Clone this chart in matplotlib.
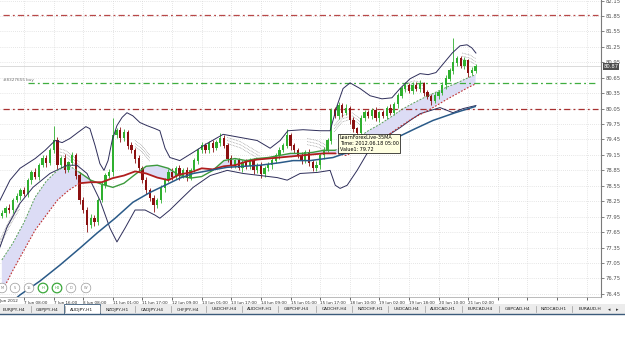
import matplotlib
matplotlib.use("Agg")
import matplotlib.pyplot as plt
import numpy as np
from matplotlib.patches import Rectangle, Circle
from matplotlib.lines import Line2D
from matplotlib.transforms import blended_transform_factory

# ---------------- data ----------------
FIRST_OPEN = 77.97
CLOSE = [78.02, 78.11, 78.08, 78.27, 78.35, 78.46, 78.40, 78.66, 78.81, 78.73,
         78.95, 79.08, 79.00, 79.24, 79.43, 78.95, 79.08, 78.85, 79.00, 79.14,
         78.75, 78.27, 78.08, 77.79, 77.92, 77.84, 78.27, 78.56, 78.75, 78.81,
         79.53, 79.62, 79.47, 79.59, 79.33, 79.24, 79.08, 78.89, 78.66, 78.46,
         78.31, 78.17, 78.27, 78.50, 78.66, 78.81, 78.73, 78.89, 78.75, 78.85,
         78.71, 78.85, 79.04, 79.24, 79.33, 79.24, 79.37, 79.28, 79.39, 79.47,
         79.33, 79.08, 78.95, 79.04, 78.89, 79.00, 78.93, 79.04, 78.85, 78.95,
         78.77, 78.89, 78.95, 79.04, 79.14, 79.24, 79.33, 79.53, 79.33, 79.24,
         79.14, 79.04, 79.20, 79.00, 78.89, 78.95, 79.14, 79.24, 79.43, 80.01,
         79.91, 80.11, 79.97, 80.05, 79.82, 79.66, 79.57, 79.86, 79.97, 79.90,
         80.01, 79.86, 79.97, 79.91, 80.05, 79.97, 80.13, 80.30, 80.44, 80.50,
         80.40, 80.51, 80.44, 80.53, 80.36, 80.28, 80.20, 80.30, 80.36, 80.50,
         80.63, 80.79, 80.94, 81.02, 80.88, 80.98, 80.75, 80.79, 80.87]
UPPER_WICK = [0.06, 0.05, 0.08, 0.04, 0.06, 0.05, 0.07, 0.05, 0.04, 0.08,
              0.05, 0.06, 0.07, 0.05, 0.29, 0.06, 0.05, 0.08, 0.04, 0.06,
              0.05, 0.07, 0.06, 0.05, 0.08, 0.06, 0.05, 0.07, 0.04, 0.06,
              0.33, 0.05, 0.07, 0.06, 0.05, 0.08, 0.05, 0.06, 0.04, 0.07,
              0.05, 0.06, 0.05, 0.07, 0.04, 0.06, 0.08, 0.05, 0.06, 0.05,
              0.07, 0.04, 0.06, 0.05, 0.08, 0.06, 0.05, 0.07, 0.05, 0.10,
              0.06, 0.05, 0.07, 0.04, 0.06, 0.05, 0.08, 0.05, 0.06, 0.04,
              0.07, 0.05, 0.06, 0.05, 0.04, 0.07, 0.06, 0.13, 0.05, 0.06,
              0.04, 0.07, 0.05, 0.06, 0.05, 0.08, 0.04, 0.06, 0.05, 0.05,
              0.07, 0.06, 0.05, 0.08, 0.05, 0.06, 0.04, 0.07, 0.05, 0.06,
              0.05, 0.07, 0.04, 0.06, 0.05, 0.08, 0.05, 0.06, 0.04, 0.07,
              0.05, 0.06, 0.05, 0.07, 0.04, 0.06, 0.05, 0.08, 0.05, 0.06,
              0.07, 0.05, 0.48, 0.06, 0.05, 0.08, 0.04, 0.06, 0.05]
LOWER_WICK = [0.05, 0.07, 0.06, 0.05, 0.04, 0.08, 0.05, 0.06, 0.07, 0.05,
              0.06, 0.04, 0.08, 0.05, 0.06, 0.07, 0.05, 0.06, 0.04, 0.05,
              0.06, 0.08, 0.05, 0.14, 0.06, 0.07, 0.05, 0.04, 0.06, 0.05,
              0.06, 0.05, 0.07, 0.04, 0.06, 0.05, 0.08, 0.05, 0.06, 0.07,
              0.05, 0.13, 0.06, 0.05, 0.07, 0.04, 0.06, 0.05, 0.08, 0.05,
              0.06, 0.05, 0.04, 0.07, 0.05, 0.06, 0.05, 0.08, 0.04, 0.06,
              0.05, 0.07, 0.06, 0.05, 0.04, 0.08, 0.05, 0.06, 0.07, 0.05,
              0.06, 0.04, 0.05, 0.07, 0.05, 0.06, 0.04, 0.05, 0.08, 0.06,
              0.05, 0.07, 0.04, 0.06, 0.05, 0.05, 0.07, 0.06, 0.04, 0.06,
              0.05, 0.06, 0.08, 0.05, 0.06, 0.07, 0.08, 0.05, 0.06, 0.04,
              0.06, 0.05, 0.07, 0.04, 0.06, 0.05, 0.05, 0.06, 0.05, 0.07,
              0.04, 0.06, 0.05, 0.06, 0.07, 0.05, 0.08, 0.05, 0.06, 0.04,
              0.06, 0.05, 0.07, 0.06, 0.05, 0.06, 0.08, 0.05, 0.04]

# Bollinger-type envelope (outer)
BBU_X = [-0.5, 2.2, 4.9, 9.0, 11.7, 14.4, 16.3, 18.4, 20.6, 22.7, 23.8, 25.2, 26.5, 27.6,
         28.7, 29.8, 31.1, 32.5, 33.8, 35.4, 37.3, 39.2, 41.4, 42.7, 44.1, 45.4, 48.1,
         51.7, 55.4, 59.8, 64.4, 69.0, 72.5, 75.2, 77.3, 81.4, 86.0, 88.7, 90.6, 92.2,
         94.1, 96.8, 99.5, 102.7, 105.4, 107.6, 110.3, 113.0, 115.2, 117.3, 119.5,
         121.7, 123.8, 125.7, 127.0, 128.1]
BBU_Y = [78.27, 78.66, 78.89, 79.08, 79.24, 79.43, 79.39, 79.47, 79.59, 79.70, 79.66,
         79.33, 78.98, 78.85, 79.04, 79.43, 79.72, 79.88, 79.97, 79.91, 79.78, 79.72,
         79.66, 79.62, 79.28, 79.10, 79.04, 79.20, 79.37, 79.55, 79.49, 79.43, 79.28,
         79.43, 79.62, 79.64, 79.62, 79.62, 80.11, 80.44, 80.55, 80.44, 80.30, 80.24,
         80.26, 80.44, 80.63, 80.73, 80.71, 80.75, 80.94, 81.13, 81.27, 81.29, 81.23,
         81.13]
BBL_X = [-0.5, 1.4, 4.9, 8.4, 13.0, 17.6, 20.3, 23.0, 26.5, 29.2, 31.1, 33.3, 36.0,
         38.7, 41.4, 42.7, 45.4, 48.1, 51.7, 56.3, 60.9, 65.2, 69.8, 74.4, 77.1, 80.6,
         85.2, 88.7, 90.1, 91.4, 93.3, 96.0, 98.7, 102.2, 107.6, 110.3, 113.0, 118.4,
         121.9, 124.6, 128.1]
BBL_Y = [77.36, 77.75, 78.21, 78.52, 78.79, 78.95, 78.95, 78.79, 78.27, 77.73, 77.46,
         77.73, 78.08, 78.08, 77.98, 77.92, 78.08, 78.27, 78.52, 78.75, 78.85, 78.79,
         78.75, 78.71, 78.66, 78.79, 78.81, 78.85, 78.56, 78.50, 78.56, 78.85, 79.18,
         79.43, 79.68, 79.82, 79.95, 80.07, 79.97, 80.05, 80.11]

# long moving average (dark blue)
BLUE_X = [3.3, 4.9, 10.3, 15.7, 21.1, 25.7, 30.6, 35.4, 40.0, 44.1, 48.1, 51.7, 56.3,
          60.9, 65.7, 69.8, 75.2, 78.7, 83.3, 89.5, 92.7, 96.8, 102.2, 106.8, 111.7,
          116.5, 122.5, 127.9]
BLUE_Y = [76.33, 76.43, 76.70, 77.01, 77.34, 77.63, 77.92, 78.23, 78.42, 78.56, 78.70,
          78.79, 78.85, 78.91, 78.93, 78.95, 79.00, 79.04, 79.04, 79.10, 79.18, 79.30,
          79.39, 79.49, 79.66, 79.82, 79.97, 80.09]

# fast (green) and slow (red) moving averages
MA_X = [0, 3, 6, 9, 12, 15, 18, 21, 24, 27, 30, 33, 36, 39, 42, 45, 48, 51, 54, 57,
        60, 63, 66, 69, 72, 75, 78, 81, 84, 87, 90, 93, 96, 99, 102, 105, 108, 111,
        114, 117, 120, 123, 126, 128]
GREEN_MA = [77.11, 77.44, 77.84, 78.33, 78.64, 78.85, 78.95, 78.81, 78.66, 78.58,
            78.52, 78.60, 78.77, 78.93, 78.95, 78.89, 78.75, 78.70, 78.73, 78.85,
            79.04, 79.08, 79.04, 79.08, 79.10, 79.14, 79.18, 79.18, 79.20, 79.24,
            79.24, 79.33, 79.47, 79.62, 79.74, 79.88, 80.03, 80.15, 80.26, 80.36,
            80.46, 80.55, 80.65, 80.71]
RED_MA = [76.49, 76.91, 77.30, 77.69, 77.98, 78.27, 78.46, 78.60, 78.62, 78.62,
          78.70, 78.75, 78.83, 78.79, 78.71, 78.66, 78.77, 78.81, 78.89, 78.87,
          78.93, 78.95, 79.02, 79.06, 79.08, 79.10, 79.12, 79.14, 79.16, 79.18,
          79.18, 79.14, 79.24, 79.33, 79.43, 79.57, 79.72, 79.86, 79.97, 80.09,
          80.22, 80.34, 80.46, 80.53]

# dotted inner-band fragments
FAN_A_X = [-0.5, 1.4, 3.3, 4.9];        FAN_A_Y = [77.50, 77.79, 78.04, 78.23]
FAN_B_X = [14.9, 17.1, 19.0, 21.1];     FAN_B_Y = [79.28, 79.24, 79.14, 79.00]
FAN_C_X = [36.0, 37.9, 40.0];           FAN_C_Y = [79.43, 79.33, 79.14]
FAN_D_X = [60.9, 64.4, 67.0, 69.8];     FAN_D_Y = [79.49, 79.41, 79.30, 79.18]
FAN_E_X = [82.5, 85.2, 87.9];           FAN_E_Y = [79.47, 79.43, 79.33]
FAN_F_X = [89.8, 91.9, 94.6, 96.8];     FAN_F_Y = [79.72, 79.91, 79.97, 79.86]
FAN_G_X = [108.7, 111.4, 114.1];        FAN_G_Y = [80.53, 80.59, 80.55]
FAN_H_X = [124.4, 126.5, 128.1];        FAN_H_Y = [81.13, 81.09, 81.02]
FAN_OFFSETS = [0.0, -0.06, -0.12]

LEVELS = [81.87, 80.55, 80.05]
LEVEL_COLORS = ["#b84848", "#3fae3f", "#a83030"]
BID = 80.87

Y_TICKS = [76.45, 76.75, 77.05, 77.35, 77.65, 77.95, 78.25, 78.55, 78.85, 79.15,
           79.45, 79.75, 80.05, 80.35, 80.65, 80.95, 81.25, 81.55, 81.85, 82.15]
X_TICK_POS = [6, 14, 22, 30, 38, 46, 54, 62, 70, 78, 86, 94, 102, 110, 118, 126,
              134, 142, 150, 158]
X_TICK_LABELS = ["7 Jun 08:00", "7 Jun 16:00", "8 Jun 08:00", "11 Jun 01:00",
                 "11 Jun 17:00", "12 Jun 09:00", "13 Jun 01:00", "13 Jun 17:00",
                 "14 Jun 09:00", "15 Jun 01:00", "15 Jun 17:00", "18 Jun 10:00",
                 "19 Jun 02:00", "19 Jun 18:00", "20 Jun 10:00", "21 Jun 02:00"]
FIRST_DATE_LABEL = "6 Jun 2012"
TABS = ["EURJPY,H4", "GBPJPY,H4", "AUDJPY,H1", "NZDJPY,H1", "CADJPY,H4", "CHFJPY,H4",
        "USDCHF,H4", "AUDCHF,H1", "GBPCHF,H4", "CADCHF,H4", "NZDCHF,H1", "USDCAD,H4",
        "AUDCAD,H1", "EURCAD,H4", "GBPCAD,H4", "NZDCAD,H1", "EURAUD,H"]
ACTIVE_TAB = "AUDJPY,H1"
PERIOD_BUTTONS = ["M", "5", "15", "H", "H4", "D", "W"]
ACTIVE_BUTTONS = ["H", "H4"]
TOOLTIP = "LearnForexLive-35MA\nTime: 2012.06.18 05:00\nValue1: 79.72"
ORDER_LABEL = "#8327655 buy"

# ---------------- figure ----------------
W, H = 625, 353
fig = plt.figure(figsize=(W / 100, H / 100), dpi=100)
fig.patch.set_facecolor("white")
ax = fig.add_axes([0, 1 - 297 / H, 601 / W, 297 / H])
ax.set_facecolor("white")
ax.set_xlim(-0.5, 161.9)
ax.set_ylim(76.39, 82.16)

ax.set_yticks(Y_TICKS)
ax.set_yticklabels(["%.2f" % v for v in Y_TICKS])
ax.set_xticks(X_TICK_POS)
ax.set_xticklabels(X_TICK_LABELS + [""] * (len(X_TICK_POS) - len(X_TICK_LABELS)))
for t in ax.get_xticklabels():
    t.set_ha("left")
ax.yaxis.tick_right()
ax.tick_params(axis="y", labelsize=3.8, colors="#505050", length=2, width=0.5, pad=1.5)
ax.tick_params(axis="x", labelsize=3.0, colors="#303030", length=2.5, width=0.5, pad=0.3)
ax.grid(True, color="#cfcfcf", linestyle=(0, (1, 2)), linewidth=0.5)
ax.set_axisbelow(True)
for s in ["top", "left"]:
    ax.spines[s].set_visible(False)
ax.spines["right"].set_color("#7a7a7a")
ax.spines["right"].set_linewidth(0.8)
ax.spines["bottom"].set_color("#a0a0a0")
ax.spines["bottom"].set_linewidth(0.5)

# horizontal levels
ax.axhline(LEVELS[0], xmin=0.005, xmax=0.995, color=LEVEL_COLORS[0], lw=0.9,
           ls=(0, (5, 2.5, 1.5, 2.5)), zorder=2)
ax.axhline(LEVELS[1], xmin=0.047, xmax=0.995, color=LEVEL_COLORS[1], lw=0.9,
           ls=(0, (5, 2.5, 1.5, 2.5)), zorder=2)
ax.axhline(LEVELS[2], xmin=0.005, xmax=0.995, color=LEVEL_COLORS[2], lw=0.9,
           ls=(0, (5, 2.5, 1.5, 2.5)), zorder=2)
ax.axhline(BID, color="#d4d4d4", lw=0.6, zorder=1.5)
ax.text(0.3, LEVELS[1] + 0.01, ORDER_LABEL, fontsize=3.0, color="#707070",
        va="bottom", ha="left")

# lavender band between the two MAs
mx = np.array(MA_X, dtype=float)
g = np.array(GREEN_MA)
r = np.array(RED_MA)
ax.fill_between(mx, r, g, where=g > r, interpolate=True, color="#dcdcf5", lw=0, zorder=1.8)

# envelope lines
ax.plot(BBU_X, BBU_Y, color="#2e2e5a", lw=0.7, zorder=4)
ax.plot(BBL_X, BBL_Y, color="#2e2e5a", lw=0.7, zorder=4)

# dotted fragments
for fx, fy in [(FAN_A_X, FAN_A_Y), (FAN_B_X, FAN_B_Y), (FAN_C_X, FAN_C_Y),
               (FAN_D_X, FAN_D_Y), (FAN_E_X, FAN_E_Y), (FAN_F_X, FAN_F_Y),
               (FAN_G_X, FAN_G_Y), (FAN_H_X, FAN_H_Y)]:
    for off in FAN_OFFSETS:
        ax.plot(fx, np.array(fy) + off, color="#8a8a8a", lw=0.5, ls=(0, (1, 1.2)), zorder=2.5)

# MAs: solid in the middle, dotted elsewhere
solid = (mx >= 21) & (mx <= 90)
left = mx <= 21
right = mx >= 90
ax.plot(mx[left], g[left], color="#5aa05a", lw=0.7, ls=(0, (2, 1.5)), zorder=4)
ax.plot(mx[right], g[right], color="#5aa05a", lw=0.7, ls=(0, (2, 1.5)), zorder=4)
ax.plot(mx[left], r[left], color="#c03030", lw=0.8, ls=(0, (1.5, 1.5)), zorder=4)
ax.plot(mx[right], r[right], color="#c03030", lw=0.8, ls=(0, (1.5, 1.5)), zorder=4)
ax.plot(mx[solid], g[solid], color="#3c9a3c", lw=1.0, zorder=4)
ax.plot(mx[solid], r[solid], color="#b01e1e", lw=1.3, zorder=4)

ax.plot(BLUE_X, BLUE_Y, color="#2a5a88", lw=1.1, zorder=4)

# candles
c = np.array(CLOSE)
o = np.array([FIRST_OPEN] + CLOSE[:-1])
hi = np.maximum(o, c) + np.array(UPPER_WICK)
lo = np.minimum(o, c) - np.array(LOWER_WICK)
cx = np.arange(len(CLOSE))
cols = ["#2fb02f" if cc >= oo else "#8b1010" for oo, cc in zip(o, c)]
ax.vlines(cx, lo, hi, colors=cols, lw=0.6, zorder=3)
ax.bar(cx, np.abs(c - o) + 0.008, bottom=np.minimum(o, c), width=0.62, color=cols,
       lw=0, zorder=3)

# tooltip
ax.text(91.3, 79.53, TOOLTIP, fontsize=3.5, va="top", ha="left", zorder=10,
        linespacing=1.15, color="#000000",
        bbox=dict(boxstyle="square,pad=0.3", fc="#ffffe1", ec="#000000", lw=0.5))

# current price box
tr = blended_transform_factory(ax.transAxes, ax.transData)
ax.text(1.004, BID, "%.2f" % BID, transform=tr, fontsize=3.8, color="white", va="center",
        ha="left", zorder=10,
        bbox=dict(boxstyle="square,pad=0.15", fc="#4d4d4d", ec="none"))

# first (cut) date label
fig.text(-4 / W, 1 - 301 / H, FIRST_DATE_LABEL, fontsize=3.0, color="#303030",
         va="center", ha="left")

# ---------------- UI decorations in pixel space ----------------
T = fig.dpi_scale_trans


def P(x, y):
    return (x / 100.0, (H - y) / 100.0)


fig.add_artist(Rectangle(P(0, 314), W / 100, 0.10, transform=T, fc="#ececec", ec="none",
                         zorder=1))
fig.add_artist(Rectangle(P(64, 314), 0.36, 0.10, transform=T, fc="white", ec="#3b5b7b",
                         lw=0.6, zorder=2))
fig.add_artist(Line2D([0, W / 100], [(H - 314) / 100] * 2, transform=T, color="#3b5b7b",
                      lw=1.0, zorder=3))
tab_centers = [14, 47, 82, 117, 152, 188, 224, 260, 296, 334, 370, 407, 443, 480, 518,
               554, 590]
separators = [31, 65, 100, 135, 171, 206, 242, 278, 316, 352, 388, 425, 462, 499, 536, 572]
for name, xc in zip(TABS, tab_centers):
    fig.text(xc / 100, (H - 309.5) / 100, name, transform=T, fontsize=3.2,
             ha="center", va="center", color="#202020", zorder=4)
for xs in separators:
    fig.add_artist(Line2D([xs / 100] * 2, [(H - 312) / 100, (H - 306) / 100], transform=T,
                          color="#9a9a9a", lw=0.5, zorder=4))
fig.text(609 / 100, (H - 309.5) / 100, "\u25c2", transform=T, fontsize=3.5, ha="center",
         va="center", color="#303030")
fig.text(617 / 100, (H - 309.5) / 100, "\u25b8", transform=T, fontsize=3.5, ha="center",
         va="center", color="#303030")

button_x = [2, 15, 29, 43, 57, 71, 86]
for lab, bx in zip(PERIOD_BUTTONS, button_x):
    active = lab in ACTIVE_BUTTONS
    fig.add_artist(Circle(P(bx, 288), 0.048, transform=T, fc="white",
                          ec="#3aa83a" if active else "#9a9a9a",
                          lw=0.9 if active else 0.5, zorder=5))
    fig.text(bx / 100, (H - 288) / 100, lab, transform=T, fontsize=2.6, ha="center",
             va="center", color="#3aa83a" if active else "#808080", zorder=6)

fig.savefig("out.png", dpi=100)
